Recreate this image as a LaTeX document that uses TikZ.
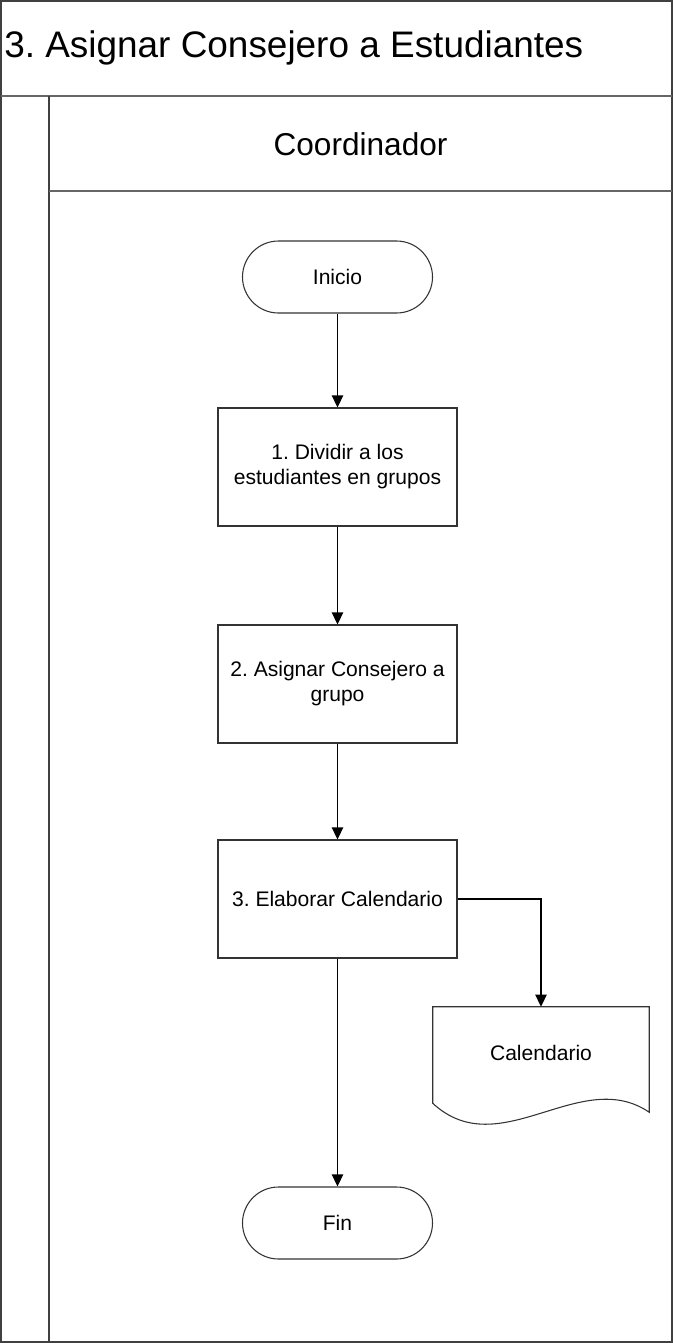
\documentclass[tikz,border=0pt]{standalone}
\usepackage{fontspec}
\setmainfont{Liberation Sans}
\frenchspacing
\usetikzlibrary{arrows.meta}
\begin{document}
\begin{tikzpicture}[x=0.75pt,y=-0.75pt,
  frame/.style={draw=black!75,line width=1.1pt},
  procbox/.style={draw=black!80,line width=0.8pt,fill=white,minimum width=179.25pt,minimum height=88.5pt,align=center,font=\fontsize{15.8pt}{18.8pt}\selectfont,inner sep=2pt},
  term/.style={draw=black!80,line width=0.8pt,fill=white,minimum width=142.5pt,minimum height=54pt,rounded corners=27pt,font=\fontsize{15.8pt}{18.8pt}\selectfont},
  flow/.style={draw=black,line width=0.8pt,-{Triangle[width=8.5pt,length=9pt]}}]
\useasboundingbox (0,0) rectangle (673,1343);
% pool frame
\draw[frame] (1,1) rectangle (672,1342);
\draw[frame,draw=black!60,line width=1.8pt] (1,96) -- (672,96);
\draw[frame] (49,96) -- (49,1342);
\draw[frame,draw=black!60] (49,191) -- (672,191);
\node[anchor=west,font=\fontsize{27.7pt}{32pt}\selectfont,inner sep=0pt] (title) at (4,48) {3. Asignar Consejero a Estudiantes};
\node[font=\fontsize{23.7pt}{28pt}\selectfont,inner sep=0pt] (lane) at (360.5,144) {Coordinador};
% nodes
\node[term] (ini) at (337.5,277) {Inicio};
\node[procbox] (b1) at (337.5,467) {1. Dividir a los\\estudiantes en grupos};
\node[procbox] (b2) at (337.5,684) {2. Asignar Consejero a\\grupo};
\node[procbox] (b3) at (337.5,899) {3. Elaborar Calendario};
\node[draw=none,minimum width=162pt,minimum height=78.75pt,inner sep=0pt] (cal) at (541,1059.5) {};
\node[font=\fontsize{15.8pt}{18.8pt}\selectfont] (caltext) at (541,1053) {Calendario};
\draw[draw=black!80,line width=0.8pt] (cal.north west) -- (cal.north east) -- (cal.south east)
  .. controls ++(-69,-47) and ++(67,62) .. ([yshift=6.75pt]cal.south west) -- cycle;
\node[term] (fin) at (337.5,1223) {Fin};
% connectors
\draw[flow] (ini) -- (b1);
\draw[flow] (b1) -- (b2);
\draw[flow] (b2) -- (b3);
\draw[flow] (b3) -- (fin);
\draw[flow] (b3.east) -| (cal.north);
\end{tikzpicture}
\end{document}
